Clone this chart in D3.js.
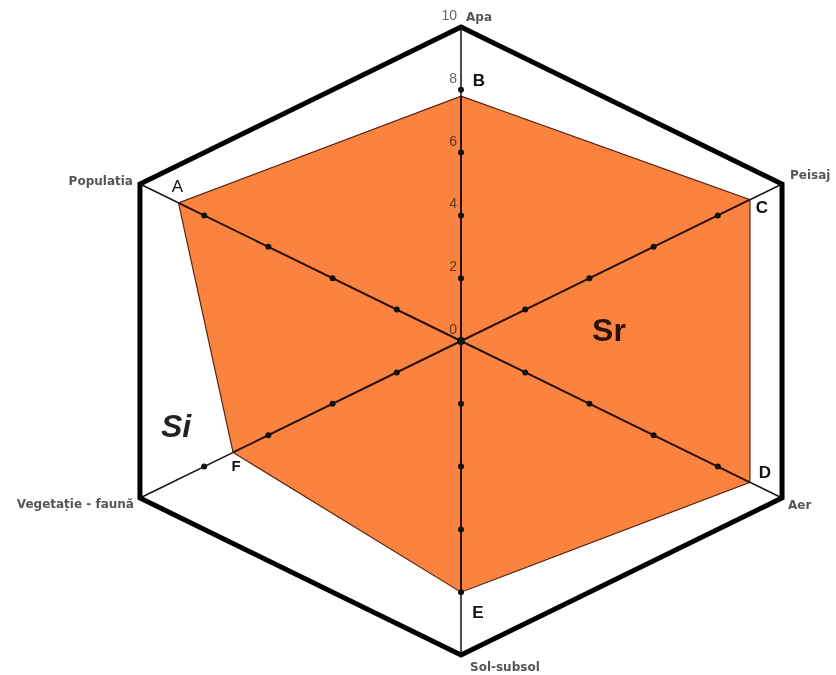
<!DOCTYPE html>
<html>
<head>
<meta charset="utf-8">
<script src="https://cdn.jsdelivr.net/npm/d3@7"></script>
<style>
  body { margin: 0; background: #fff; }
  svg { display: block; font-family: "Liberation Sans", Arial, sans-serif; }
</style>
</head>
<body>
<div id="viz"></div>
<script>
var width = 836;
var height = 675;

// data
var axisNames = ["Apa", "Peisaj", "Aer", "Sol-subsol", "Vegetație - faună", "Populatia"];
var pointLetters = ["B", "C", "D", "E", "F", "A"];
var values = [7.8, 9.0, 9.0, 8.0, 7.1, 8.8];
var tickValues = [0, 2, 4, 6, 8, 10];
var dotValues = [2, 4, 6, 8];

var cx = 461, cy = 341;
var rx = 370.7, ry = 314;

var r = d3.scaleLinear().domain([0, 10]).range([0, 1]);

function pt(i, v) {
  var a = i * Math.PI / 3;
  return [cx + r(v) * rx * Math.sin(a), cy - r(v) * ry * Math.cos(a)];
}

var svg = d3.select("#viz")
  .append("svg")
  .attr("width", width)
  .attr("height", height);

// outer hexagon
svg.append("polygon")
  .attr("points", axisNames.map(function(d, i) { return pt(i, 10).join(","); }).join(" "))
  .attr("fill", "none")
  .attr("stroke", "#000")
  .attr("stroke-width", 5)
  .attr("stroke-linejoin", "miter");

// axes
svg.selectAll(".axis")
  .data(axisNames)
  .enter()
  .append("line")
  .attr("class", "axis")
  .attr("x1", cx).attr("y1", cy)
  .attr("x2", function(d, i) { return pt(i, 10)[0]; })
  .attr("y2", function(d, i) { return pt(i, 10)[1]; })
  .attr("stroke", "#111")
  .attr("stroke-width", 1.5);

// data polygon
svg.append("polygon")
  .attr("points", values.map(function(v, i) { return pt(i, v).join(","); }).join(" "))
  .attr("fill", "#fb8340")
  .attr("stroke", "#5a2410")
  .attr("stroke-width", 1.2);

// axis lines inside polygon (darker)
svg.selectAll(".axisIn")
  .data(values)
  .enter()
  .append("line")
  .attr("x1", cx).attr("y1", cy)
  .attr("x2", function(d, i) { return pt(i, d)[0]; })
  .attr("y2", function(d, i) { return pt(i, d)[1]; })
  .attr("stroke", "#2a1006")
  .attr("stroke-width", 2);

// tick dots
axisNames.forEach(function(name, i) {
  svg.selectAll(".dot" + i)
    .data(dotValues)
    .enter()
    .append("circle")
    .attr("cx", function(d) { return pt(i, d)[0]; })
    .attr("cy", function(d) { return pt(i, d)[1]; })
    .attr("r", 3)
    .attr("fill", "#111");
});
svg.append("circle").attr("cx", cx).attr("cy", cy).attr("r", 4).attr("fill", "#111");

// scale labels
svg.selectAll(".tick")
  .data(tickValues)
  .enter()
  .append("text")
  .attr("x", function(d) { return cx - 4; })
  .attr("y", function(d) { return pt(0, d)[1] - 7; })
  .attr("text-anchor", "end")
  .style("font-size", "14px")
  .style("fill", "#666")
  .style("mix-blend-mode", "multiply")
  .text(function(d) { return d; });

// axis names
var nameOffsets = [[5, -10, "start"], [8, -9, "start"], [6, 7, "start"], [9, 12, "start"], [-6, 6, "end"], [-7, -3, "end"]];
svg.selectAll(".name")
  .data(axisNames)
  .enter()
  .append("text")
  .attr("x", function(d, i) { return pt(i, 10)[0] + nameOffsets[i][0]; })
  .attr("y", function(d, i) { return pt(i, 10)[1] + nameOffsets[i][1]; })
  .attr("text-anchor", function(d, i) { return nameOffsets[i][2]; })
  .attr("dominant-baseline", "middle")
  .style("font-family", "'DejaVu Sans', sans-serif")
  .style("font-size", "12px")
  .style("font-weight", "bold")
  .style("fill", "#555")
  .text(function(d) { return d; });

// point letters
var letterOffsets = [[18, -15], [12, 9], [15, -9], [17, 21], [3, 15], [-1, -15]];
svg.selectAll(".letter")
  .data(pointLetters)
  .enter()
  .append("text")
  .attr("x", function(d, i) { return pt(i, values[i])[0] + letterOffsets[i][0]; })
  .attr("y", function(d, i) { return pt(i, values[i])[1] + letterOffsets[i][1]; })
  .attr("text-anchor", "middle")
  .attr("dominant-baseline", "middle")
  .style("font-size", function(d) { return d == "F" ? "15px" : "17px"; })
  .style("font-weight", function(d) { return d == "A" ? "normal" : "bold"; })
  .style("fill", "#111")
  .text(function(d) { return d; });

// region labels
svg.append("text")
  .attr("x", 609).attr("y", 341)
  .attr("text-anchor", "middle")
  .style("font-size", "32px")
  .style("font-weight", "bold")
  .style("fill", "#2a1006")
  .text("Sr");

svg.append("text")
  .attr("x", 176).attr("y", 437)
  .attr("text-anchor", "middle")
  .style("font-size", "32px")
  .style("font-weight", "bold")
  .style("font-style", "italic")
  .style("fill", "#222")
  .text("Si");
</script>
</body>
</html>
